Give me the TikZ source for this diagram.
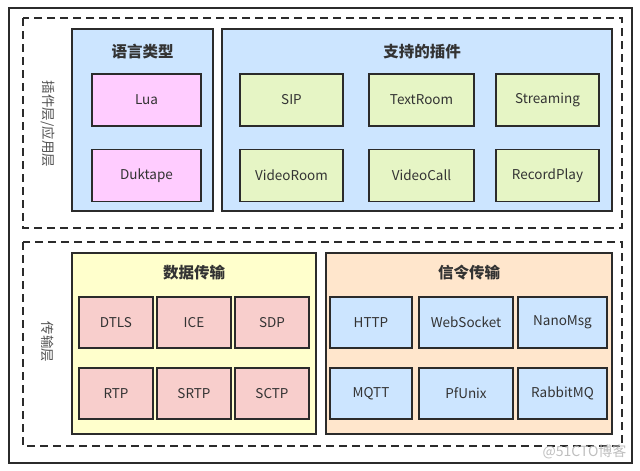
\documentclass[tikz,border=0pt]{standalone}
\usepackage{fontspec}
\setmainfont{Noto Sans CJK SC}
\usetikzlibrary{positioning}
\definecolor{cblue}{HTML}{CCE5FF}
\definecolor{cpink}{HTML}{FFCCFF}
\definecolor{cgreen}{HTML}{E6F5C5}
\definecolor{cyellow}{HTML}{FFFFCC}
\definecolor{cpeach}{HTML}{FFE6CC}
\definecolor{cred}{HTML}{F8CECC}
\definecolor{edge}{HTML}{2B2B2B}
\definecolor{txt}{HTML}{333333}
\tikzset{
  px/.style={x=1pt,y=-1pt},
  frame/.style={draw=edge,line width=1.2pt},
  layer/.style={draw=edge,line width=1.6pt,dash pattern=on 8pt off 5pt},
  group/.style={draw=edge,line width=1.6pt},
  item/.style={draw=edge,line width=1.6pt,font=\fontsize{13.5}{15}\selectfont,text=txt},
  gtitle/.style={font=\fontsize{15.5}{17}\selectfont\bfseries,text=txt},
  sidelabel/.style={font=\fontsize{13.5}{15}\selectfont,text=txt!85,rotate=-90},
}
\begin{document}
\begin{tikzpicture}[px]
\useasboundingbox (0,0) rectangle (640,471);
\fill[white] (0,0) rectangle (640,471);
% outer frame
\draw[frame] (9,8) rectangle (632,463);
% layers
\draw[layer] (23,18) rectangle (622,228);
\draw[layer] (23,242) rectangle (622,446);
\node[sidelabel] (lbltop) at (48,124) {插件层/应用层};
\node[sidelabel] (lblbot) at (48,342) {传输层};
% top groups
\draw[group,fill=cblue] (72,29) rectangle (213,211);
\node[gtitle] (glang) at (142.5,52) {语言类型};
\draw[group,fill=cblue] (222,29) rectangle (612,211);
\node[gtitle] (gplug) at (422,52) {支持的插件};
% lang items
\node[item,fill=cpink,minimum width=109pt,minimum height=52pt] (lua) at (146.5,100) {Lua};
\node[item,fill=cpink,minimum width=109pt,minimum height=52pt] (duk) at (146.5,175.5) {Duktape};
% plugin items
\node[item,fill=cgreen,minimum width=103pt,minimum height=52pt] (sip) at (291.5,100) {SIP};
\node[item,fill=cgreen,minimum width=105pt,minimum height=52pt] (textroom) at (421.5,100) {TextRoom};
\node[item,fill=cgreen,minimum width=103pt,minimum height=52pt] (streaming) at (547.5,100) {Streaming};
\node[item,fill=cgreen,minimum width=103pt,minimum height=52pt] (videoroom) at (291.5,175.5) {VideoRoom};
\node[item,fill=cgreen,minimum width=105pt,minimum height=52pt] (videocall) at (421.5,175.5) {VideoCall};
\node[item,fill=cgreen,minimum width=103pt,minimum height=52pt] (recordplay) at (547.5,175.5) {RecordPlay};
% bottom groups
\draw[group,fill=cyellow] (72,253) rectangle (316,434);
\node[gtitle] (gdata) at (194,273) {数据传输};
\draw[group,fill=cpeach] (326,253) rectangle (612,434);
\node[gtitle] (gsig) at (469,273) {信令传输};
% data items
\node[item,fill=cred,minimum width=74pt,minimum height=51pt] (dtls) at (116,322.5) {DTLS};
\node[item,fill=cred,minimum width=74pt,minimum height=51pt] (ice) at (194,322.5) {ICE};
\node[item,fill=cred,minimum width=74pt,minimum height=51pt] (sdp) at (272,322.5) {SDP};
\node[item,fill=cred,minimum width=74pt,minimum height=51pt] (rtp) at (116,393.5) {RTP};
\node[item,fill=cred,minimum width=74pt,minimum height=51pt] (srtp) at (194,393.5) {SRTP};
\node[item,fill=cred,minimum width=74pt,minimum height=51pt] (sctp) at (272,393.5) {SCTP};
% signalling items
\node[item,fill=cblue,minimum width=82pt,minimum height=51pt] (http) at (371,322.5) {HTTP};
\node[item,fill=cblue,minimum width=94pt,minimum height=51pt] (ws) at (466,322.5) {WebSocket};
\node[item,fill=cblue,minimum width=89pt,minimum height=51pt] (nano) at (562.5,322.5) {NanoMsg};
\node[item,fill=cblue,minimum width=82pt,minimum height=51pt] (mqtt) at (371,393.5) {MQTT};
\node[item,fill=cblue,minimum width=94pt,minimum height=51pt] (pfunix) at (466,393.5) {PfUnix};
\node[item,fill=cblue,minimum width=89pt,minimum height=51pt] (rabbit) at (562.5,393.5) {RabbitMQ};
% watermark
\node[font=\fontsize{14}{16}\selectfont,text=black!25,anchor=east] (wm) at (630,452) {@51CTO博客};
\end{tikzpicture}
\end{document}
